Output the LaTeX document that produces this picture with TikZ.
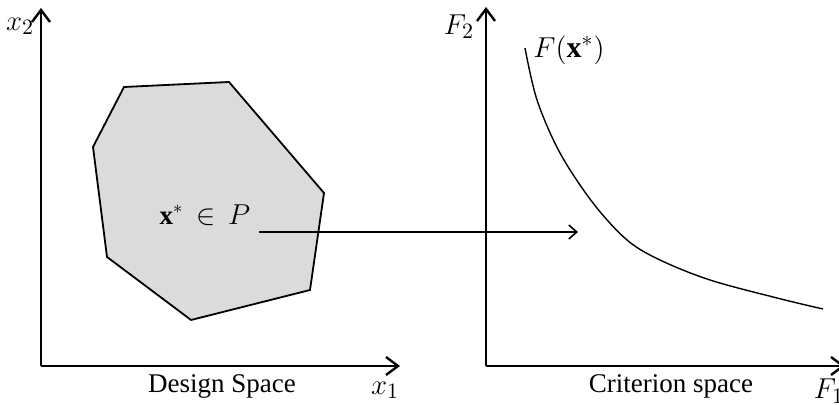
\documentclass[tikz,border=0pt]{standalone}
\usepackage{amsmath}
\usepackage{fontspec}
\setmainfont{Liberation Serif}
\usepackage{tikz}
\usetikzlibrary{positioning, arrows.meta}

\begin{document}
\begin{tikzpicture}[
  x=0.5pt, y=-0.5pt,
  font=\fontsize{13.5}{16}\selectfont,
  axis/.style={-{Straight Barb[length=6pt,width=9pt]}, line width=1.2pt},
  region/.style={draw, line width=0.9pt, fill=black!14, line join=miter},
  front/.style={line width=0.7pt},
  arrow/.style={-{Straight Barb[length=4pt,width=7pt]}, line width=0.8pt},
  lbl/.style={inner sep=0pt},
  axlbl/.style={inner sep=0pt, font=\fontsize{15}{18}\selectfont},
]
  \useasboundingbox (0,0) rectangle (839,405);

  % design space
  \coordinate (o1) at (41,366);
  \coordinate (x1end) at (400,366);
  \coordinate (x2end) at (41,8);
  \draw[axis] (o1) -- (x1end);
  \draw[axis] (o1) -- (x2end);
  \node[axlbl] (x2lab) at (20,26) {$x_2$};
  \node[axlbl] (x1lab) at (385,390) {$x_1$};
  \node[lbl] (dslab) at (222,386) {Design Space};

  \draw[region] (124,87) -- (229,82) -- (324,193) -- (310,290)
    -- (191,320) -- (107,257) -- (93,147) -- cycle;
  \node[lbl] (xstar) at (205,215) {$\mathbf{x}^{*}\,\in\,P$};

  % criterion space
  \coordinate (o2) at (486,366);
  \coordinate (f1end) at (845,366);
  \coordinate (f2end) at (486,7);
  \draw[axis] (o2) -- (f1end);
  \draw[axis] (o2) -- (f2end);
  \node[axlbl] (f2lab) at (459,27) {$F_2$};
  \node[axlbl] (f1lab) at (829,391) {$F_1$};
  \node[lbl] (cslab) at (671,386) {Criterion space};

  \draw[front] plot[smooth, tension=0.55] coordinates {(525,48) (537,100)
    (560,153) (593,203) (627,240) (660,260) (710,280) (777,298) (823,309)};
  \node[axlbl] (fxlab) at (569,50) {$F(\mathbf{x}^{*})$};

  % mapping
  \coordinate (mapfrom) at (259,232);
  \coordinate (mapto) at (578,232);
  \draw[arrow] (mapfrom) -- (mapto);
\end{tikzpicture}
\end{document}
